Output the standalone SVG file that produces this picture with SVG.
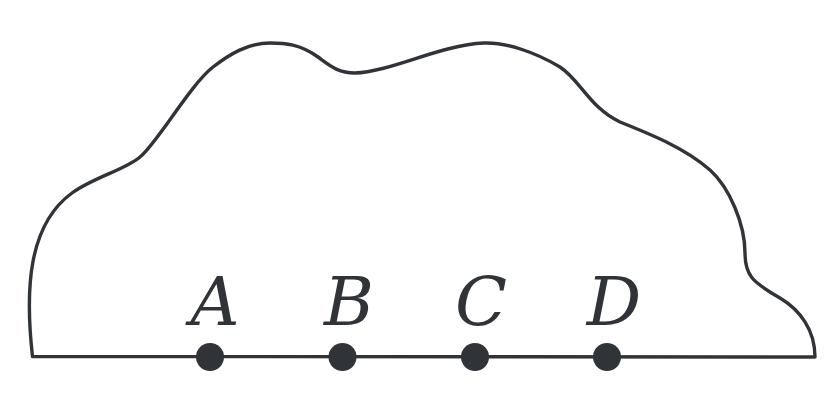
<svg xmlns="http://www.w3.org/2000/svg" width="837" height="408" viewBox="0 0 837 408">
<style>
.shape{fill:none;stroke:#303338;stroke-width:3.4;stroke-linejoin:round}
.dot{fill:#303338}
.lbl{font-family:"DejaVu Serif","Liberation Serif",serif;font-size:68px;font-style:italic;fill:#303338;text-anchor:middle}
</style>
<rect width="837" height="408" fill="#ffffff"/>
<g id="connectors">
<path class="shape" d="M 32.5 356.5 C 25 290, 28 225, 72 193 C 94 177, 125 170, 140 157 C 158 142, 190 85, 213 67 C 230 54, 248 43, 270 43 C 285 43, 300 44, 318 57 C 330 65.7, 338 73, 355 73 C 390 72, 440 45, 484 43 C 505 42, 535 52, 560 67 C 580 80, 590 108, 620 122 C 650 134, 685 148, 710 170 C 730 188, 745 225, 745 253 C 745 275, 752 282, 780 298 C 800 310, 815 330, 815 357 L 32.5 356.5 Z"/>
</g>
<g id="A"><circle class="dot" cx="210" cy="357" r="14"/><text class="lbl" x="215" y="325">A</text></g>
<g id="B"><circle class="dot" cx="342.5" cy="357" r="14"/><text class="lbl" x="349" y="325">B</text></g>
<g id="C"><circle class="dot" cx="475" cy="357" r="14"/><text class="lbl" x="481" y="325">C</text></g>
<g id="D"><circle class="dot" cx="607" cy="357" r="14"/><text class="lbl" x="614" y="325">D</text></g>
</svg>
